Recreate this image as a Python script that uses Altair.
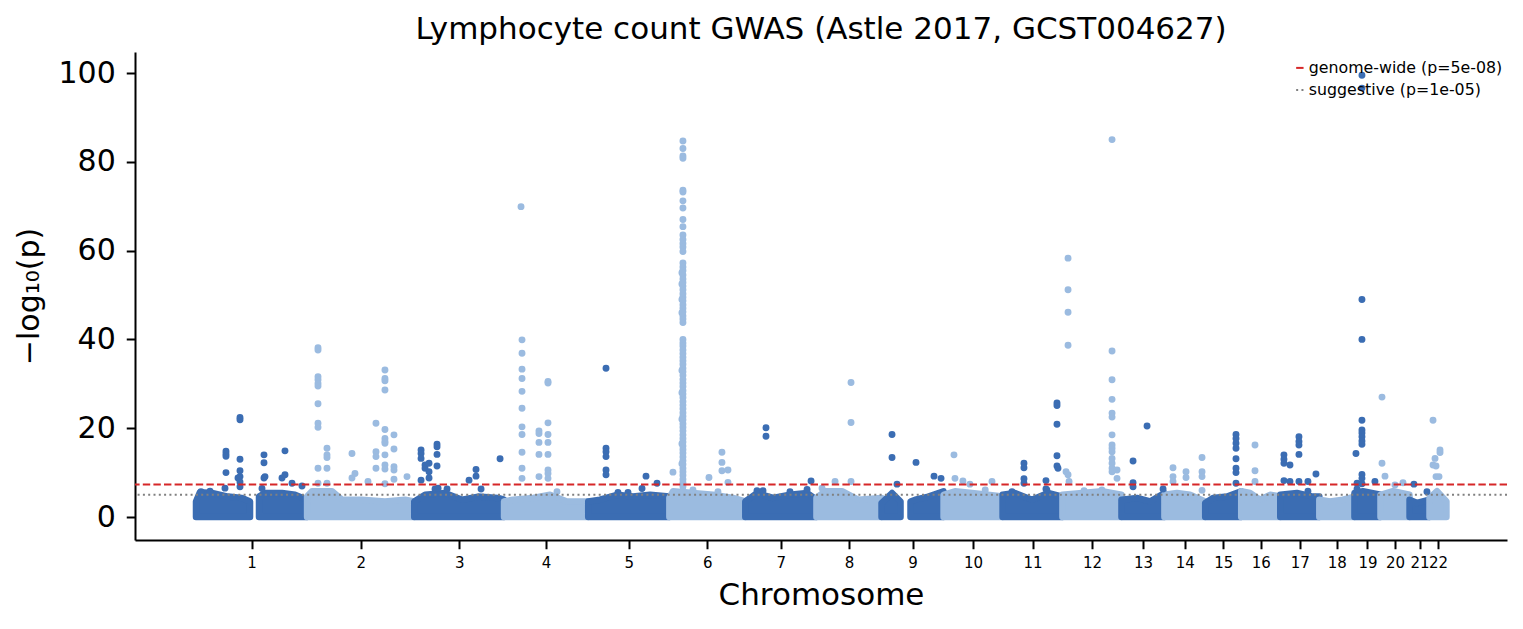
import altair as alt
import pandas as pd
import numpy as np

# ---------------- data ----------------
chrom_names = [str(i) for i in range(1, 23)]
# plotted span of each chromosome (Mb, first to last SNP)
chrom_span_mb = [256, 247, 207, 194, 187, 175, 164, 150, 143, 136, 138,
                 136, 99, 94, 83, 90, 90, 81, 60, 67, 46, 39]

# stand-out SNP columns: chromosome, position within chromosome (Mb), -log10(p) values
peak_chr = [
    1, 1, 1, 1, 1, 1, 1, 1, 1, 1, 1, 1, 1,
    2, 2, 2, 2, 2, 2, 2, 2, 2,
    3, 3, 3, 3, 3, 3, 3, 3, 3, 3, 3,
    4, 4, 4, 4, 4,
    5, 5, 5, 5, 5, 5,
    6, 6, 6, 6, 6, 6, 6, 6,
    7, 7, 7, 7, 7, 7,
    8, 8, 8,
    9, 9, 9, 9, 9,
    10, 10, 10, 10, 10, 10,
    11, 11, 11, 11, 11, 11,
    12, 12, 12, 12, 12, 12, 12,
    13, 13, 13,
    14, 14, 14,
    15,
    16,
    17, 17, 17, 17, 17,
    19, 19, 19, 19,
    20, 20, 20, 20,
    21, 21,
    22, 22, 22, 22, 22,
]
peak_pos_mb = [
    66.8, 69.1, 101.4, 96.8, 152.1, 156.7, 159.0, 198.2, 205.1, 221.3, 244.3, 11.5, 32.3,
    25.2, 45.9, 103.5, 110.4, 140.4, 158.8, 179.5, 200.3, 230.3,
    15.7, 24.9, 34.1, 47.9, 52.5, 75.6, 126.3, 142.4, 154.0, 197.8, 55.0,
    39.1, 41.4, 80.5, 101.3, 122.0,
    41.0, 68.6, 91.7, 124.0, 133.2, 158.6,
    8.3, 31.3, 29.0, 91.3, 121.2, 135.1, 54.4, 112.0,
    27.0, 40.8, 47.7, 142.4, 151.6, 103.0,
    42.9, 79.7, 12.9,
    24.2, 35.7, 79.5, 121.0, 137.2,
    24.0, 26.3, 44.6, 60.7, 111.6, 96.0,
    49.3, 100.0, 125.4, 127.7, 21.7, 102.0,
    8.3, 12.9, 15.2, 49.8, 114.3, 125.8, 91.0,
    26.7, 59.0, 95.9,
    19.8, 49.8, 86.7,
    71.0,
    31.8,
    8.5, 22.4, 43.1, 63.8, 82.3,
    3.5, 17.3, 47.2, 6.0,
    3.5, 10.4, 33.4, 51.9,
    10.1, 40.1,
    8.1, 12.7, 15.0, 21.9, 24.2,
]
peak_logp = [
    [6.5], [14.8, 14.2, 13.7, 10.0], [22.4, 21.9, 13.0, 10.4, 9.1, 7.9, 6.8], [8.8],
    [6.4], [14.0, 12.2, 8.8], [9.1], [8.8], [14.9, 9.5], [7.6], [7.0], [5.7], [5.8],
    [38.1, 37.6, 31.6, 30.9, 30.1, 29.5, 25.5, 21.1, 20.2, 11.0, 7.6],
    [15.5, 14.0, 13.4, 11.0, 7.6], [14.3, 8.8], [9.8], [8.0], [21.1, 14.7, 13.6, 11.0],
    [33.1, 31.2, 30.7, 28.6, 19.7, 17.7, 17.0, 16.6, 14.0, 11.7, 10.8, 7.5],
    [18.5, 15.3, 11.3, 10.6, 8.5], [9.1],
    [15.1, 14.3, 13.2, 8.3], [11.7, 11.0], [12.1, 10.2, 8.8], [6.3], [16.4, 15.8, 14.1, 11.5],
    [6.3], [8.3], [10.7, 9.2], [6.3], [13.1], [6.5],
    [69.9], [39.9, 36.9, 33.3, 31.2, 28.3, 24.5, 20.3, 18.6, 14.6, 11.0, 8.7],
    [19.4, 18.8, 16.8, 14.1, 9.1], [30.5, 30.2, 21.2, 18.6, 16.8, 14.1, 10.6, 9.8, 8.7], [5.7],
    [33.5, 15.5, 14.7, 13.6, 10.6, 9.5], [5.5], [5.5], [6.4], [9.2], [7.6],
    [10.1],
    [84.7, 83.0, 81.3, 80.8, 73.6, 73.2, 71.2, 69.6, 67.0, 65.4, 63.5, 62.5, 61.6, 60.8,
     59.8, 57.2, 56.3, 55.5, 54.5, 53.6, 52.8, 52.0, 51.2, 50.3, 49.5, 48.7, 47.8, 47.0,
     46.2, 45.3, 44.6, 43.8, 40.0, 39.2, 38.5, 37.6, 36.8, 36.0, 35.2, 34.4, 33.5, 32.7,
     31.9, 31.0, 30.2, 29.4, 28.5, 27.7, 26.9, 26.0, 25.2, 24.4, 23.5, 22.7, 21.9, 21.0,
     20.2, 19.4, 18.5, 17.7, 16.9, 16.0, 15.2, 14.4, 13.5, 12.7, 11.9, 11.0, 10.2, 9.4,
     8.5, 7.7, 6.9, 6.0],
    [55.0, 52.5, 49.0, 46.0, 33.0, 28.0, 22.0, 16.5, 12.0],
    [8.9], [14.6, 12.3, 10.4], [10.6, 7.8], [6.1], [5.7],
    [5.9], [5.9], [20.1, 18.2], [6.2], [8.1], [5.7],
    [8.0], [30.3, 21.3, 8.0], [6.5],
    [18.6, 13.4], [7.4], [12.3], [9.2], [8.7],
    [14.0], [8.7], [8.1], [7.4], [8.0], [6.1],
    [12.1, 11.1, 8.6, 7.6], [8.2, 6.3], [25.7, 25.1, 20.9, 13.8, 11.5], [11.0], [5.7], [6.1],
    [10.2], [58.3, 51.2, 46.1, 38.7, 9.5], [8.0], [5.9],
    [85.0, 37.4, 30.9, 26.5, 23.4, 22.5, 18.5, 16.2, 15.5, 14.7, 13.2, 12.1, 11.0, 10.2],
    [10.6, 8.7], [6.1],
    [12.6, 7.7, 6.8], [20.5], [6.3],
    [11.1, 9.1, 8.0], [10.2, 8.9], [13.4, 10.2, 9.1, 6.0],
    [18.6, 17.7, 16.6, 15.5, 13.1, 11.0, 10.0, 7.6],
    [16.2, 10.4, 8.0],
    [14.0, 13.0, 12.1, 8.2], [11.7, 8.0], [18.1, 17.0, 16.2, 14.1, 8.0], [8.0, 5.8], [9.7],
    [14.3], [99.5, 96.6, 49.0, 40.0, 21.8, 19.6, 18.9, 18.1, 17.1, 16.4, 9.6, 8.7, 7.5], [8.0],
    [7.6, 6.3],
    [27.0, 12.1], [9.2], [7.2], [7.7],
    [7.4], [5.7],
    [21.8, 11.7], [13.2], [11.5, 9.1], [9.1], [15.1, 14.5],
]

# dense mass of non-significant SNPs: upper envelope per chromosome segment
band_chr = [1, 1, 2, 3, 4, 5, 6, 7, 8, 9, 9, 10, 11, 12, 13, 14, 15, 16, 17, 18, 19, 20, 21, 22]
band_pos_mb = [
    [0, 9.2, 36.9, 73.8, 106.0, 124.5], [145.2, 159.0, 198.2, 228.2, 256],
    [0, 11.4, 57.5, 80.5, 126.6, 179.5, 225.6, 247],
    [0, 24.9, 71.0, 110.2, 147.5, 193.2, 207],
    [0, 20.6, 66.7, 105.9, 145.0, 194],
    [0, 27.2, 66.4, 103.3, 142.5, 187],
    [0, 8.3, 54.4, 100.5, 146.6, 175],
    [0, 27.0, 63.8, 103.0, 142.2, 164],
    [0, 19.8, 59.0, 95.9, 150],
    [0, 24.2, 43.8], [66.8, 77.8, 107.8, 143],
    [0, 26.3, 65.4, 102.3, 136],
    [0, 28.6, 67.7, 104.6, 138],
    [0, 45.2, 91.3, 136],
    [0, 36.0, 65.9, 99],
    [0, 29.0, 59.0, 94],
    [0, 18.0, 50.2, 83],
    [0, 20.3, 43.3, 66.4, 90],
    [0, 38.5, 75.4, 90],
    [0, 24.7, 54.6, 81],
    [0, 19.6, 60],
    [0, 28.8, 67],
    [0, 17.1, 46],
    [0, 17.3, 39],
]
band_top = [
    [3.5, 5.6, 5.4, 4.6, 4.3, 3.5], [4.6, 5.4, 5.4, 5.0, 3.9],
    [4.6, 5.8, 5.8, 3.9, 3.9, 3.5, 3.9, 3.5],
    [3.5, 5.0, 5.4, 3.9, 4.6, 4.3, 3.9],
    [3.5, 3.9, 4.3, 5.0, 3.5, 3.5],
    [3.5, 3.9, 5.0, 4.6, 5.0, 4.6],
    [4.3, 5.8, 5.4, 5.0, 4.3, 3.5],
    [3.5, 5.4, 4.3, 5.0, 5.4, 3.9],
    [4.3, 5.8, 5.8, 3.9, 4.3],
    [3.15, 5.4, 3.5], [3.5, 3.9, 4.6, 5.8],
    [5.0, 5.8, 5.4, 5.0, 4.6],
    [5.0, 5.4, 3.9, 5.4, 4.6],
    [5.0, 5.4, 5.8, 5.0],
    [3.9, 4.3, 3.5, 5.4],
    [5.0, 5.4, 5.0, 3.5],
    [3.15, 4.3, 4.6, 5.8],
    [5.8, 5.4, 3.9, 5.0, 4.6],
    [5.0, 5.4, 4.6, 4.6],
    [3.9, 3.5, 3.9, 4.6],
    [5.4, 5.8, 5.0],
    [5.0, 5.8, 5.0],
    [3.9, 3.15, 3.9],
    [4.3, 5.8, 3.5],
]

thr_label = ["genome-wide (p=5e-08)", "suggestive (p=1e-05)"]
thr_p = [5e-8, 1e-5]

# ---------------- build tables ----------------
DARK = "#3b6db3"
LIGHT = "#9bbbe0"
offsets = np.concatenate([[0], np.cumsum(chrom_span_mb)[:-1]])
ends = np.cumsum(chrom_span_mb)
tick_values = [float(o + s / 2) for o, s in zip(offsets, chrom_span_mb)]

def shade(c):
    return "dark" if c % 2 == 1 else "light"

rows = []
for c, p, vals in zip(peak_chr, peak_pos_mb, peak_logp):
    for v in vals:
        rows.append({"x": float(offsets[c - 1] + p), "logp": v, "shade": shade(c)})
pts_df = pd.DataFrame(rows)

thr_df = pd.DataFrame({"label": thr_label, "y": [-np.log10(p) for p in thr_p]})

# label expression for chromosome ticks
expr = f"'{chrom_names[-1]}'"
for i in range(len(chrom_names) - 2, -1, -1):
    expr = f"datum.value < {float(ends[i])} ? '{chrom_names[i]}' : ({expr})"

FONT = "DejaVu Sans"
xscale = alt.Scale(domain=[-140.6, 3021.6], nice=False, zero=False)
yscale = alt.Scale(domain=[-5.18, 104.73], nice=False, zero=False)
shade_scale = alt.Scale(domain=["dark", "light"], range=[DARK, LIGHT])

xaxis = alt.Axis(values=tick_values, labelExpr=expr, title="Chromosome", grid=False,
                 labelFontSize=15, labelPadding=7, labelOverlap=False, labelFlush=False,
                 labelBound=False, tickSize=8.75, tickWidth=2, domainWidth=2,
                 titleFontSize=31, titlePadding=10, titleFontWeight="normal",
                 labelFont=FONT, titleFont=FONT, labelColor="black", titleColor="black",
                 domainColor="black", tickColor="black")
yaxis = alt.Axis(values=[0, 20, 40, 60, 80, 100], title="−log₁₀(p)", grid=False,
                 labelFontSize=30, labelPadding=11, tickSize=8.75, tickWidth=2,
                 domainWidth=2, titleFontSize=30, titlePadding=13, titleFontWeight="normal",
                 labelFont=FONT, titleFont=FONT, labelColor="black", titleColor="black",
                 domainColor="black", tickColor="black")

layers = []
for k, (c, ps, ts) in enumerate(zip(band_chr, band_pos_mb, band_top)):
    seg_df = pd.DataFrame({"x": [float(offsets[c - 1] + p) for p in ps], "top": ts})
    col = DARK if c % 2 == 1 else LIGHT
    layers.append(
        alt.Chart(seg_df).mark_area(fill=col, stroke=col, strokeWidth=6.5,
                                    strokeJoin="round", strokeCap="round", opacity=1)
        .encode(x=alt.X("x:Q", scale=xscale, axis=xaxis),
                y=alt.Y("top:Q", scale=yscale, axis=yaxis),
                y2=alt.datum(0))
    )

pts = alt.Chart(pts_df).mark_circle(size=48, opacity=1, strokeWidth=0).encode(
    x=alt.X("x:Q", scale=xscale, axis=xaxis),
    y=alt.Y("logp:Q", scale=yscale, axis=yaxis),
    fill=alt.Fill("shade:N", scale=shade_scale, legend=None),
)

leg = alt.Legend(title=None, orient="none", legendX=1157, legendY=8, symbolType="stroke",
                 symbolSize=56, symbolStrokeWidth=2, labelFontSize=15.8, labelFont=FONT,
                 labelColor="black", labelOffset=1, rowPadding=5.2, padding=0, labelLimit=0)
rules = alt.Chart(thr_df).mark_rule(strokeWidth=2).encode(
    y=alt.Y("y:Q", scale=yscale, axis=yaxis),
    color=alt.Color("label:N", scale=alt.Scale(domain=thr_label, range=["#d62728", "#808080"]), legend=leg),
    strokeDash=alt.StrokeDash("label:N", scale=alt.Scale(domain=thr_label, range=[[7.4, 3.2], [2, 3.3]]), legend=leg),
)

chart = alt.layer(*layers, pts, rules).properties(
    width=1372, height=488,
    title=alt.TitleParams("Lymphocyte count GWAS (Astle 2017, GCST004627)", fontSize=31,
                          fontWeight="normal", font=FONT, anchor="middle", frame="group",
                          offset=6, color="black"),
    autosize=alt.AutoSizeParams(type="none"),
    padding={"left": 127, "top": 44, "right": 8, "bottom": 81},
).configure_view(stroke=None)

chart.save("out.html", embed_options={"renderer": "svg", "actions": False})
